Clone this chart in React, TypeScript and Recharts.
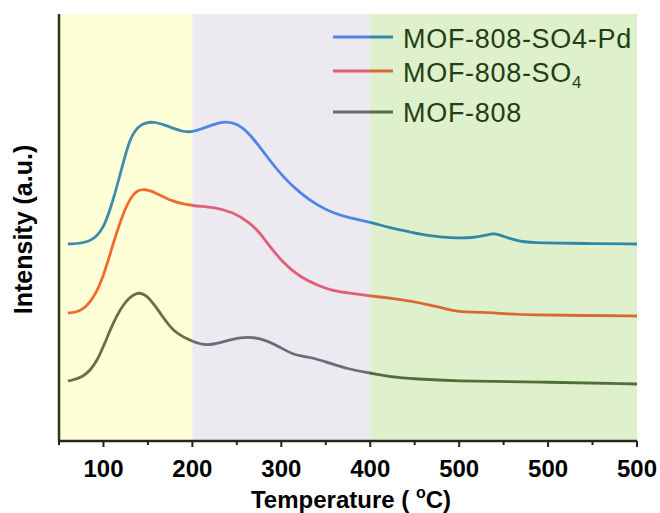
import React from "react";
import { LineChart, Line, XAxis, YAxis, ReferenceArea, Legend } from "recharts";

// ---- Data (intensity in arbitrary units) ----
const blueT = [60, 85, 100, 111, 121, 130, 141, 156, 172, 189, 201, 216, 234, 250, 265, 284, 302, 321, 340, 358, 377, 400, 422, 445, 467, 490, 516, 531, 540, 549, 568, 591, 640, 700];
const blueV = [197, 198, 211, 241, 274, 304, 317, 320, 315, 309, 309, 314, 320, 318, 307, 284, 264, 248, 236, 228, 223, 219, 213, 209, 205, 203, 203, 206, 208, 205, 199, 198, 197.5, 197];

const redT = [60, 74, 88, 100, 111, 122, 133, 144, 160, 178, 201, 223, 246, 265, 276, 284, 302, 321, 340, 358, 377, 400, 422, 445, 467, 482, 498, 527, 554, 583, 640, 700];
const redV = [128, 129, 141, 164, 198, 228, 248, 253, 248, 239, 235, 234, 229, 218, 208, 198, 178, 164, 156, 150, 148, 145, 143, 140, 136, 133, 129, 129, 127, 126, 125.5, 125];

const grayT = [60, 77, 93, 107, 122, 138, 149, 164, 178, 201, 216, 234, 254, 274, 299, 313, 332, 351, 374, 400, 422, 453, 490, 591, 700];
const grayV = [60, 63, 78, 111, 138, 150, 146, 128, 109, 99, 95, 99, 104, 104, 94, 86, 84, 79, 72, 68, 64, 62, 60, 59, 57];

const xTicks = [50, 100, 150, 200, 250, 300, 350, 400, 450, 500, 550, 600, 650, 700];
const majorTicks = [100, 200, 300, 400, 500, 600, 700];
const majorTickLabels = ["100", "200", "300", "400", "500", "500", "500"];

const regionBounds = [50, 200, 400, 700];
const regionFills = ["#fefed7", "#ece9f1", "#dff0cd"];

const seriesNames = ["MOF-808-SO4-Pd", "MOF-808-SO4", "MOF-808"];
// colours per region: [yellow region, lavender region, green region]
const seriesColors = [
  ["#3e8cab", "#4b86e3", "#2f89a8"],
  ["#f26a2f", "#e15f76", "#d9692f"],
  ["#6f6d3c", "#6c6b78", "#4f6f38"],
];

const toRows = (t: number[], v: number[]) => t.map((x, i) => ({ t: x, v: v[i] }));
const blueData = toRows(blueT, blueV);
const redData = toRows(redT, redV);
const grayData = toRows(grayT, grayV);
const seriesData = [blueData, redData, grayData];

const FONT = "Arial, 'Liberation Sans', sans-serif";
const FRAME = "#26261a";

const gradientStops = (data: { t: number }[], colors: string[]) => {
  const tmin = data[0].t;
  const tmax = data[data.length - 1].t;
  const f = (b: number) => Math.min(1, Math.max(0, (b - tmin) / (tmax - tmin)));
  const f1 = f(regionBounds[1]);
  const f2 = f(regionBounds[2]);
  return [
    { o: 0, c: colors[0] },
    { o: f1, c: colors[0] },
    { o: f1, c: colors[1] },
    { o: f2, c: colors[1] },
    { o: f2, c: colors[2] },
    { o: 1, c: colors[2] },
  ];
};

const XTick = (props: any) => {
  const { x, y, payload } = props;
  const val = payload.value;
  const mi = majorTicks.indexOf(val);
  const major = mi >= 0;
  return (
    <g>
      <line x1={x} x2={x} y1={y} y2={y + (major ? 6 : 4)} stroke="#222" strokeWidth={2} />
      {major && (
        <text x={x} y={y + 36} textAnchor="middle" fontFamily={FONT} fontWeight="bold" fontSize={24} fill="#000">
          {majorTickLabels[mi]}
        </text>
      )}
    </g>
  );
};

const XTitle = (props: any) => {
  const vb = props.viewBox;
  return (
    <text x={vb.x + vb.width / 2 + 3} y={vb.y + 67} textAnchor="middle" fontFamily={FONT} fontWeight="bold" fontSize={24} fill="#000">
      {"Temperature ( "}
      <tspan dy={-10} fontSize={16}>o</tspan>
      <tspan dy={10}>C)</tspan>
    </text>
  );
};

const YTitle = (props: any) => {
  const vb = props.viewBox;
  const cx = vb.x + 32;
  const cy = vb.y + vb.height / 2 + 2;
  return (
    <text x={cx} y={cy} transform={`rotate(-90 ${cx} ${cy})`} textAnchor="middle" fontFamily={FONT} fontWeight="bold" fontSize={25} fill="#000">
      Intensity (a.u.)
    </text>
  );
};

const legendRows = [
  { line: 19, text: 8 },
  { line: 53, text: 42 },
  { line: 94, text: 82 },
];

const LegendContent = () => (
  <div style={{ position: "relative", width: 310, height: 120, fontFamily: FONT }}>
    {seriesNames.map((name, i) => (
      <React.Fragment key={name}>
        <svg style={{ position: "absolute", left: 0, top: legendRows[i].line - 3 }} width={60} height={6}>
          <line x1={0} x2={37} y1={3} y2={3} stroke={seriesColors[i][1]} strokeWidth={3} />
          <line x1={37} x2={60} y1={3} y2={3} stroke={seriesColors[i][2]} strokeWidth={3} />
        </svg>
        <div
          style={{
            position: "absolute",
            left: 70,
            top: legendRows[i].text,
            fontSize: 27,
            lineHeight: "27px",
            letterSpacing: 0.7,
            color: "#213f12",
            whiteSpace: "nowrap",
          }}
        >
          {name === "MOF-808-SO4" ? (
            <>
              MOF-808-SO<sub style={{ fontSize: 17, verticalAlign: "-6px", lineHeight: 0 }}>4</sub>
            </>
          ) : (
            name
          )}
        </div>
      </React.Fragment>
    ))}
  </div>
);

export default function App() {
  return (
    <div style={{ position: "absolute", left: 0, top: 0, width: 660, height: 513, background: "#fff" }}>
      <LineChart width={660} height={513} margin={{ top: 14, right: 23, bottom: 0, left: 0 }}>
        <defs>
          {seriesData.map((d, i) => (
            <linearGradient key={i} id={`grad-${i}`} x1="0" y1="0" x2="1" y2="0">
              {gradientStops(d, seriesColors[i]).map((s, j) => (
                <stop key={j} offset={s.o} stopColor={s.c} />
              ))}
            </linearGradient>
          ))}
        </defs>
        <XAxis
          dataKey="t"
          type="number"
          domain={[regionBounds[0], regionBounds[3]]}
          ticks={xTicks}
          interval={0}
          allowDataOverflow
          height={72}
          axisLine={{ stroke: FRAME, strokeWidth: 2.5 }}
          tickLine={false}
          tickSize={0}
          tickMargin={0}
          tick={<XTick />}
          label={<XTitle />}
        />
        <XAxis
          xAxisId="top"
          orientation="top"
          dataKey="t"
          type="number"
          domain={[regionBounds[0], regionBounds[3]]}
          allowDataOverflow
          height={0}
          axisLine={{ stroke: FRAME, strokeWidth: 2.5 }}
          tick={false}
          tickLine={false}
        />
        <YAxis
          type="number"
          domain={[0, 427]}
          width={59}
          axisLine={{ stroke: "#333318", strokeWidth: 2.5 }}
          tick={false}
          tickLine={false}
          label={<YTitle />}
        />
        <YAxis
          yAxisId="right"
          orientation="right"
          type="number"
          domain={[0, 427]}
          width={0}
          axisLine={{ stroke: "#1a2a12", strokeWidth: 2.5 }}
          tick={false}
          tickLine={false}
        />
        {regionFills.map((fill, i) => (
          <ReferenceArea
            key={i}
            x1={regionBounds[i]}
            x2={regionBounds[i + 1]}
            y1={0}
            y2={427}
            fill={fill}
            fillOpacity={1}
            stroke="none"
            ifOverflow="hidden"
          />
        ))}
        {seriesData.map((d, i) => (
          <Line
            key={seriesNames[i]}
            data={d}
            dataKey="v"
            name={seriesNames[i]}
            type="basis"
            stroke={`url(#grad-${i})`}
            strokeWidth={2.8}
            dot={false}
            activeDot={false}
            isAnimationActive={false}
          />
        ))}
        <Legend
          layout="vertical"
          align="center"
          verticalAlign="middle"
          content={<LegendContent />}
          wrapperStyle={{ position: "absolute", left: 333, top: 18, width: 310, height: 120 }}
        />
      </LineChart>
    </div>
  );
}
